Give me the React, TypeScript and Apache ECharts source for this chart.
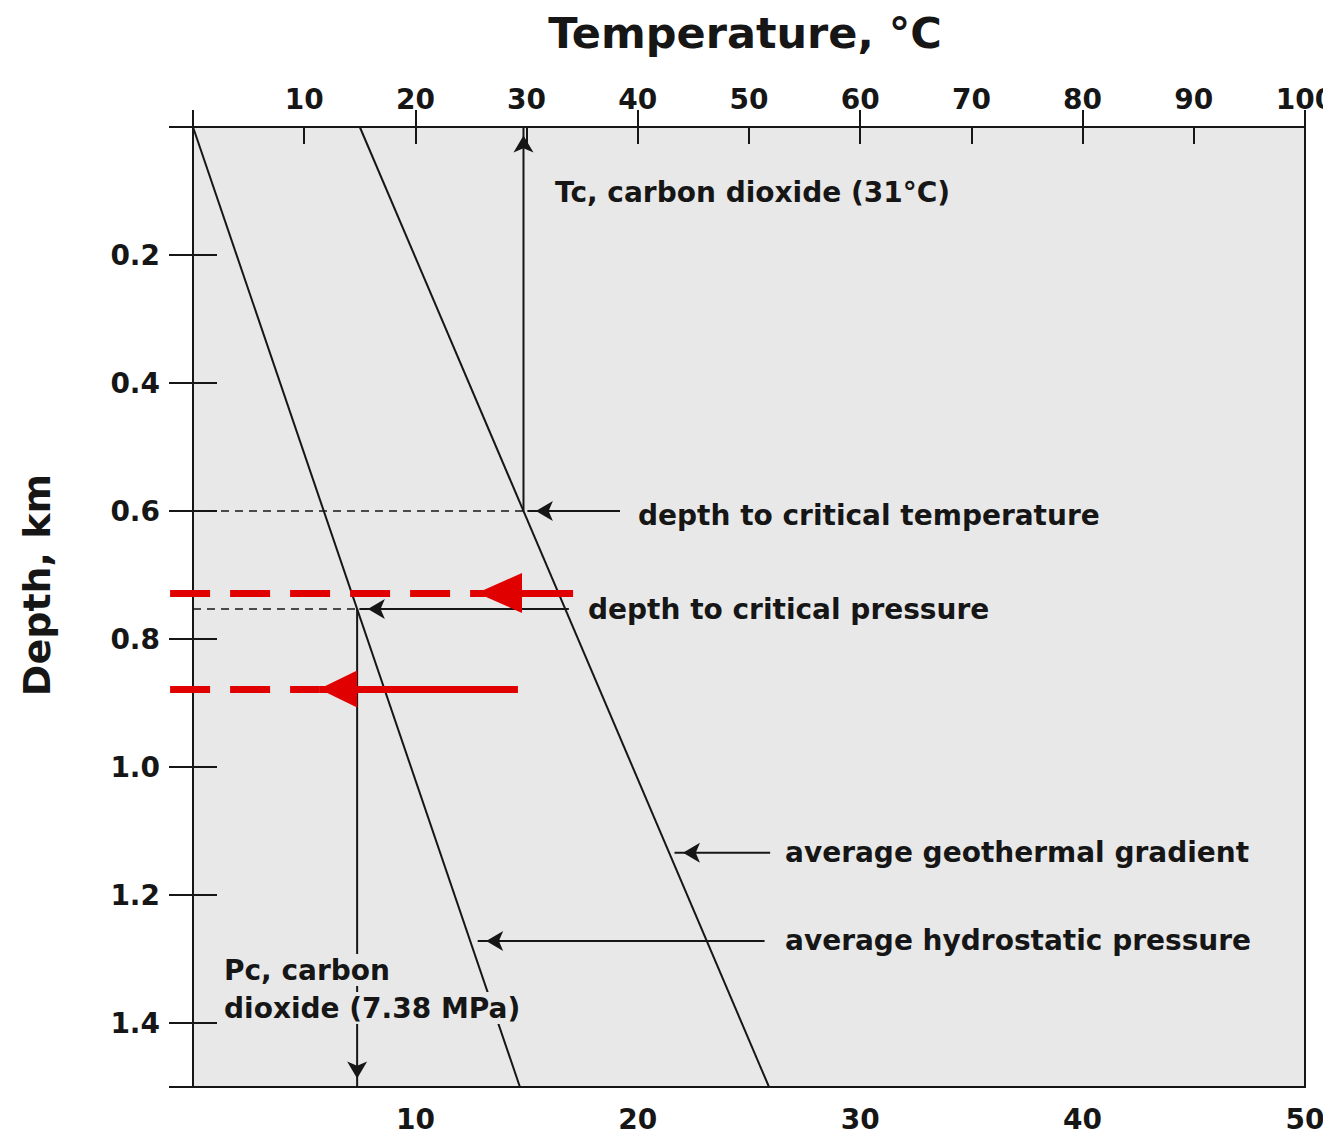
import React, { useEffect, useRef } from "react";
import * as echarts from "echarts";

// Depth range (km) and the two gradient lines drawn against it
const depthKm = [0, 1.5];
const hydrostaticMPa = [0, 14.7]; // bottom axis: pressure, MPa
const geothermC = [15, 51.8]; // top axis: temperature, °C

// Axis extents and tick spacing
const pressureRange = [0, 50];
const pressureStep = 10;
const temperatureRange = [0, 100];
const temperatureStep = 10;
const depthRange = [0, 1.5];
const depthStep = 0.2;

// CO2 critical point
const criticalPressureMPa = 7.38;
const criticalTempDepthKm = 0.6;

// Interpolate along a two-point gradient line
const valueAtDepth = (vals: number[], d: number) =>
  vals[0] + ((vals[1] - vals[0]) * (d - depthKm[0])) / (depthKm[1] - depthKm[0]);
const depthAtValue = (vals: number[], v: number) =>
  depthKm[0] + ((depthKm[1] - depthKm[0]) * (v - vals[0])) / (vals[1] - vals[0]);

const criticalTempC = valueAtDepth(geothermC, criticalTempDepthKm);
const criticalPressureDepthKm = depthAtValue(hydrostaticMPa, criticalPressureMPa);

// Pointer arrows (x in axis units, y in km): [fromX, toX, depth]
const tempPointer = [38.4, criticalTempC + 0.35, criticalTempDepthKm];
const pressurePointer = [16.9, criticalPressureMPa + 0.1, criticalPressureDepthKm];
const geothermPointer = [51.9, 43.3, 1.134];
const hydroPointer = [25.7, 12.8, 1.272];

// Highlight arrows (pressure axis): [fromX, tipX, toX, depth]
const highlightUpper = [-1.03, 12.77, 17.09, 0.728];
const highlightLower = [-1.03, 5.67, 14.61, 0.878];

const INK = "#161616";
const RED = "#e10000";
const PLOT_BG = "#e8e8e8";
const FONT = "'DejaVu Sans', Lato, sans-serif";

function seg(xAxisIndex: number, data: number[][], lineStyle: Record<string, unknown>) {
  return {
    type: "line",
    xAxisIndex,
    yAxisIndex: 0,
    data,
    symbol: "none",
    silent: true,
    lineStyle,
    z: 3,
  };
}

// Free-standing segment that may run past the plot frame
function freeSeg(xAxisIndex: number, coords: number[][], lineStyle: Record<string, unknown>) {
  return {
    type: "lines",
    coordinateSystem: "cartesian2d",
    xAxisIndex,
    yAxisIndex: 0,
    clip: false,
    silent: true,
    symbol: "none",
    lineStyle: { ...lineStyle, opacity: 1, curveness: 0 },
    data: [{ coords }],
    z: 4,
  };
}

export default function App() {
  const ref = useRef<HTMLDivElement>(null);

  useEffect(() => {
    if (!ref.current) return;
    document.documentElement.style.overflow = "hidden";
    document.body.style.overflow = "hidden";
    document.body.style.margin = "0";
    const chart = echarts.init(ref.current, undefined, { renderer: "svg" });

    const black = { color: INK, width: 2 };
    const blackDash = { color: INK, width: 1.5, type: [8, 6] };
    const redDash = { color: RED, width: 7, type: [40, 20], cap: "butt" };
    const redSolid = { color: RED, width: 7 };

    const arrowHead = (x: number, y: number, dir: "left" | "up" | "down") => {
      const len = 17;
      const rot = dir === "left" ? 90 : dir === "up" ? 0 : 180;
      const off =
        dir === "left" ? [len / 2, 0] : dir === "up" ? [0, len / 2] : [0, -len / 2];
      return { value: [x, y], symbolRotate: rot, symbolOffset: off };
    };
    const redHead = (x: number, y: number, w: number, len: number) => ({
      value: [x, y],
      symbolRotate: 90,
      symbolSize: [w, len],
      symbolOffset: [len / 2, 0],
    });

    const axisLabelStyle = {
      color: INK,
      fontFamily: FONT,
      fontSize: 28,
      fontWeight: "bold",
    };

    const option = {
      animation: false,
      grid: {
        left: 193,
        right: 18,
        top: 127,
        bottom: 50,
        containLabel: false,
        outerBoundsMode: "none",
        show: true,
        backgroundColor: PLOT_BG,
        borderColor: INK,
        borderWidth: 2,
      },
      xAxis: [
        {
          type: "value",
          position: "bottom",
          min: pressureRange[0],
          max: pressureRange[1],
          interval: pressureStep,
          axisLine: { show: true, lineStyle: { color: INK, width: 2 } },
          axisTick: { show: true, inside: true, length: 17, lineStyle: { color: INK, width: 2 } },
          splitLine: { show: false },
          axisLabel: {
            ...axisLabelStyle,
            margin: 18,
            formatter: (v: number) => (v === 0 ? "" : String(v)),
          },
        },
        {
          type: "value",
          position: "top",
          min: temperatureRange[0],
          max: temperatureRange[1],
          interval: temperatureStep,
          axisLine: { show: true, lineStyle: { color: INK, width: 2 } },
          axisTick: { show: true, inside: true, length: 17, lineStyle: { color: INK, width: 2 } },
          splitLine: { show: false },
          axisLabel: {
            ...axisLabelStyle,
            margin: 14,
            formatter: (v: number) => (v === 0 ? "" : String(v)),
          },
        },
      ],
      yAxis: [
        {
          type: "value",
          inverse: true,
          min: depthRange[0],
          max: depthRange[1],
          interval: depthStep,
          axisLine: { show: true, lineStyle: { color: INK, width: 2 } },
          axisTick: { show: true, inside: true, length: 24, lineStyle: { color: INK, width: 2 } },
          splitLine: { show: false },
          axisLabel: {
            ...axisLabelStyle,
            margin: 33,
            formatter: (v: number) => (v === 0 || v > 1.45 ? "" : v.toFixed(1)),
          },
        },
        {
          type: "value",
          position: "right",
          inverse: true,
          min: depthRange[0],
          max: depthRange[1],
          interval: depthStep,
          axisLine: { show: true, lineStyle: { color: INK, width: 2 } },
          axisTick: { show: true, inside: true, length: 24, lineStyle: { color: INK, width: 2 } },
          splitLine: { show: false },
          axisLabel: { show: false },
        },
      ],
      series: [
        // gradient lines
        seg(0, depthKm.map((d, i) => [hydrostaticMPa[i], d]), black),
        seg(1, depthKm.map((d, i) => [geothermC[i], d]), black),
        // critical-depth guides
        seg(1, [[temperatureRange[0], criticalTempDepthKm], [criticalTempC, criticalTempDepthKm]], blackDash),
        seg(0, [[pressureRange[0], criticalPressureDepthKm], [criticalPressureMPa, criticalPressureDepthKm]], blackDash),
        // Tc up arrow and Pc down arrow shafts
        seg(1, [[criticalTempC, criticalTempDepthKm], [criticalTempC, depthRange[0]]], black),
        seg(0, [[criticalPressureMPa, criticalPressureDepthKm], [criticalPressureMPa, depthRange[1]]], black),
        // pointer shafts
        seg(1, [[tempPointer[0], tempPointer[2]], [tempPointer[1], tempPointer[2]]], black),
        seg(0, [[pressurePointer[0], pressurePointer[2]], [pressurePointer[1], pressurePointer[2]]], black),
        seg(1, [[geothermPointer[0], geothermPointer[2]], [geothermPointer[1], geothermPointer[2]]], black),
        seg(0, [[hydroPointer[0], hydroPointer[2]], [hydroPointer[1], hydroPointer[2]]], black),
        // black arrowheads on the temperature axis
        {
          type: "scatter",
          xAxisIndex: 1,
          yAxisIndex: 0,
          symbol: "arrow",
          symbolSize: [15, 17],
          itemStyle: { color: INK, opacity: 1 },
          silent: true,
          z: 4,
          data: [
            arrowHead(criticalTempC, depthRange[0], "up"),
            arrowHead(tempPointer[1], tempPointer[2], "left"),
            arrowHead(geothermPointer[1], geothermPointer[2], "left"),
          ],
        },
        // black arrowheads on the pressure axis
        {
          type: "scatter",
          xAxisIndex: 0,
          yAxisIndex: 0,
          symbol: "arrow",
          symbolSize: [15, 17],
          itemStyle: { color: INK, opacity: 1 },
          silent: true,
          z: 4,
          data: [
            arrowHead(criticalPressureMPa, depthRange[1], "down"),
            arrowHead(pressurePointer[1], pressurePointer[2], "left"),
            arrowHead(hydroPointer[1], hydroPointer[2], "left"),
          ],
        },
        // red highlight arrows
        freeSeg(0, [[highlightUpper[0], highlightUpper[3]], [highlightUpper[1], highlightUpper[3]]], redDash),
        freeSeg(0, [[highlightUpper[1], highlightUpper[3]], [highlightUpper[2], highlightUpper[3]]], redSolid),
        freeSeg(0, [[highlightLower[0], highlightLower[3]], [highlightLower[1], highlightLower[3]]], redDash),
        freeSeg(0, [[highlightLower[1], highlightLower[3]], [highlightLower[2], highlightLower[3]]], redSolid),
        {
          type: "scatter",
          xAxisIndex: 0,
          yAxisIndex: 0,
          symbol: "triangle",
          itemStyle: { color: RED, opacity: 1 },
          silent: true,
          clip: false,
          z: 5,
          data: [
            redHead(highlightUpper[1], highlightUpper[3], 40, 45),
            redHead(highlightLower[1], highlightLower[3], 37, 38),
          ],
        },
      ],
      graphic: [
        {
          type: "text",
          x: 745,
          y: 33,
          z: 100,
          style: {
            text: "Temperature, °C",
            fill: INK,
            font: `bold 43px ${FONT}`,
            textAlign: "center",
            textVerticalAlign: "middle",
          },
        },
        {
          type: "text",
          x: 37,
          y: 585,
          rotation: Math.PI / 2,
          z: 100,
          style: {
            text: "Depth, km",
            fill: INK,
            font: `bold 38px ${FONT}`,
            textAlign: "center",
            textVerticalAlign: "middle",
          },
        },
        ...[
          ["Tc, carbon dioxide (31°C)", 553, 192],
          ["depth to critical temperature", 636, 515],
          ["depth to critical pressure", 586, 609],
          ["average geothermal gradient", 783, 852],
          ["average hydrostatic pressure", 783, 940],
          ["Pc, carbon", 222, 970],
          ["dioxide (7.38 MPa)", 222, 1008],
        ].map(([text, x, y]) => ({
          type: "text",
          x,
          y,
          z: 100,
          style: {
            text,
            fill: INK,
            font: `bold 28px ${FONT}`,
            textAlign: "left",
            textVerticalAlign: "middle",
            backgroundColor: PLOT_BG,
            padding: [2, 2],
          },
        })),
      ],
    };

    chart.setOption(option as any);
    return () => chart.dispose();
  }, []);

  return (
    <div
      ref={ref}
      style={{ position: "absolute", left: 0, top: 0, width: 1323, height: 1137, background: "#fff" }}
    />
  );
}
